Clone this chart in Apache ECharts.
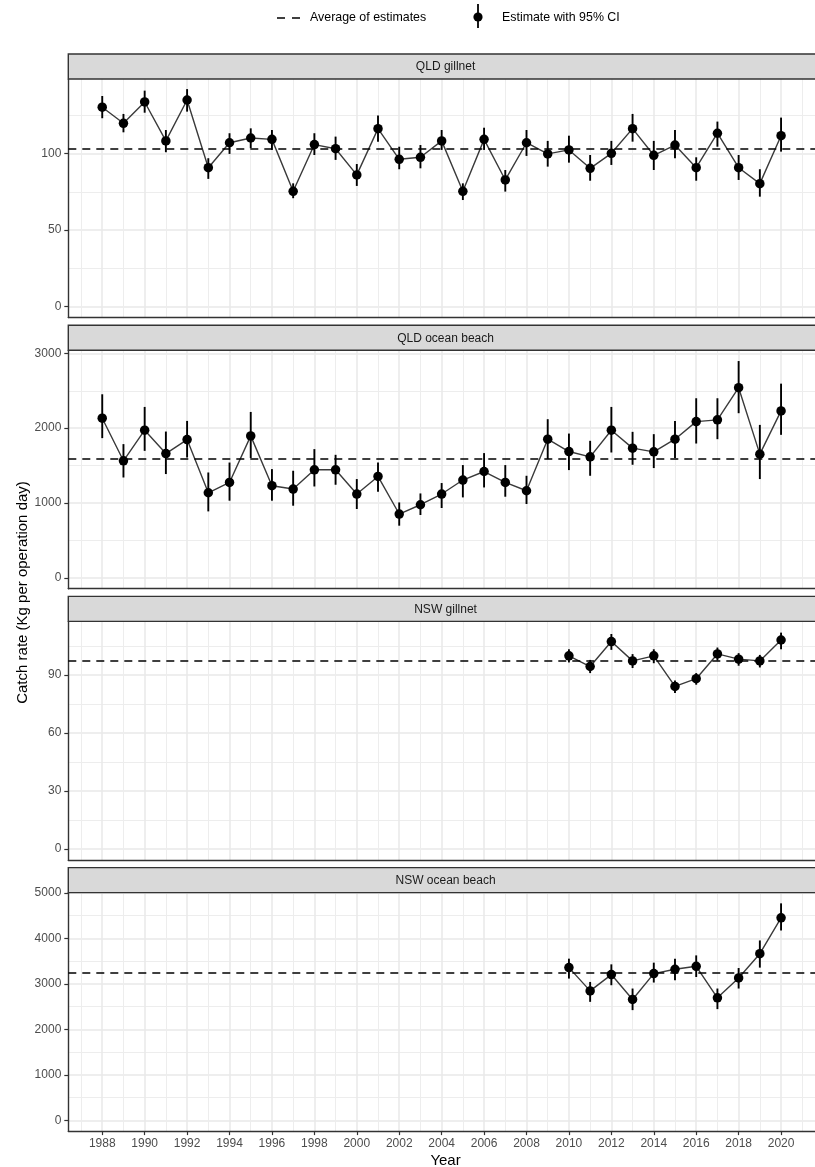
<!DOCTYPE html>
<html><head><meta charset="utf-8">
<script src="https://cdn.jsdelivr.net/npm/echarts@6/dist/echarts.min.js"></script>
<style>html,body{margin:0;padding:0;background:#fff}#c{width:815px;height:1167px}</style>
</head><body><div id="c"></div>
<script>
// ---------- data ----------
const qldYears = [1988,1989,1990,1991,1992,1993,1994,1995,1996,1997,1998,1999,2000,2001,2002,2003,2004,2005,2006,2007,2008,2009,2010,2011,2012,2013,2014,2015,2016,2017,2018,2019,2020];
const nswYears = [2010,2011,2012,2013,2014,2015,2016,2017,2018,2019,2020];

const qldGillnetEst = [130.2,119.7,133.6,108.2,134.9,90.7,107.0,110.1,109.2,75.3,105.8,103.1,86.0,116.2,96.2,97.5,108.2,75.3,109.2,82.7,107.0,99.7,102.3,90.3,100.1,116.2,98.8,105.5,90.7,113.2,90.7,80.3,111.6];
const qldGillnetLo  = [123.0,113.8,126.6,100.8,127.3,83.4,99.7,103.4,102.3,70.8,99.0,95.8,78.8,107.7,89.7,90.3,102.3,69.6,102.3,75.1,98.4,91.4,94.0,82.2,92.5,107.7,89.2,96.9,82.2,104.4,82.7,71.8,101.2];
const qldGillnetHi  = [137.5,125.8,141.0,115.3,142.0,96.9,113.2,116.4,115.3,80.5,113.2,111.0,93.1,124.7,104.4,105.5,115.3,80.5,116.8,89.2,115.3,108.2,111.6,99.0,108.2,125.8,108.2,115.3,97.5,120.8,99.0,89.7,123.4];

const qldBeachEst = [2133,1564,1973,1661,1848,1137,1275,1897,1231,1187,1444,1444,1120,1355,853,977,1120,1307,1421,1275,1164,1853,1688,1617,1973,1733,1684,1853,2088,2111,2541,1653,2231];
const qldBeachLo  = [1867,1341,1697,1387,1608,888,1031,1600,1031,964,1221,1244,920,1151,697,840,933,1075,1208,1084,987,1587,1440,1364,1675,1511,1467,1600,1795,1853,2200,1320,1911];
const qldBeachHi  = [2453,1787,2284,1955,2097,1408,1541,2217,1453,1431,1720,1644,1320,1541,1008,1128,1267,1507,1667,1507,1364,2120,1928,1831,2284,1951,1920,2097,2400,2400,2897,2044,2595];

const nswGillnetEst = [99.8,94.3,107.2,97.2,99.8,84.0,88.0,100.8,98.1,97.2,108.0];
const nswGillnetLo  = [96.4,90.9,102.9,93.5,96.0,80.6,84.9,97.4,94.7,93.8,103.2];
const nswGillnetHi  = [103.2,97.7,111.1,100.7,103.2,87.1,90.9,104.1,101.2,100.3,111.8];

const nswBeachEst = [3358,2846,3205,2658,3227,3321,3387,2693,3131,3665,4453];
const nswBeachLo  = [3117,2605,2971,2423,3030,3080,3152,2445,2898,3358,4175];
const nswBeachHi  = [3555,3043,3430,2898,3467,3555,3627,2898,3349,3956,4772];

const panelNames = ['QLD gillnet','QLD ocean beach','NSW gillnet','NSW ocean beach'];
const averages = [103.4, 1595, 97.2, 3240];

const xTicks = [1988,1990,1992,1994,1996,1998,2000,2002,2004,2006,2008,2010,2012,2014,2016,2018,2020];
const xMinorTicks = [1987,1989,1991,1993,1995,1997,1999,2001,2003,2005,2007,2009,2011,2013,2015,2017,2019,2021];
const yTicks = [[0,50,100],[0,1000,2000,3000],[0,30,60,90],[0,1000,2000,3000,4000,5000]];
const yMinorTicks = [[25,75,125],[500,1500,2500],[15,45,75,105],[500,1500,2500,3500,4500]];

// ---------- layout ----------
const xRange = [1986.4, 2021.6];
const yRanges = [[-7.07,148.6],[-144.9,3041.9],[-5.6,117.6],[-238.5,5008.5]];
const panelLeft = 68.3, panelWidth = 754.5, stripH = 25, panelH = 238.5, firstStripTop = 54, panelStep = 271.2;
const FONT = '"Liberation Sans", Arial, sans-serif';

const panels = [
  {years: qldYears, est: qldGillnetEst, lo: qldGillnetLo, hi: qldGillnetHi},
  {years: qldYears, est: qldBeachEst, lo: qldBeachLo, hi: qldBeachHi},
  {years: nswYears, est: nswGillnetEst, lo: nswGillnetLo, hi: nswGillnetHi},
  {years: nswYears, est: nswBeachEst, lo: nswBeachLo, hi: nswBeachHi}
];

const grids = [], xAxes = [], yAxes = [], series = [], graphics = [];

panels.forEach((p, i) => {
  const stripTop = firstStripTop + i * panelStep;
  const top = stripTop + stripH;
  const isBottom = i === panels.length - 1;
  grids.push({left: panelLeft, top: top, width: panelWidth, height: panelH, containLabel: false});

  xAxes.push({
    type: 'value', gridIndex: i, min: xRange[0], max: xRange[1],
    axisLine: {show: true, onZero: false, lineStyle: {color: '#333333', width: 1.4}},
    axisTick: {show: isBottom, length: 4, lineStyle: {color: '#333333', width: 1.2}, customValues: xTicks},
    axisLabel: {show: isBottom, margin: 7, color: '#4d4d4d', fontSize: 12, fontFamily: FONT, customValues: xTicks, formatter: v => String(v)},
    splitLine: {show: true, lineStyle: {color: '#e9e9e9', width: 1.5}}
  });
  xAxes.push({
    type: 'value', gridIndex: i, min: xRange[0], max: xRange[1],
    axisLine: {show: false}, axisTick: {show: false, customValues: xMinorTicks},
    axisLabel: {show: false}, splitLine: {show: true, lineStyle: {color: '#ededed', width: 1.1}}
  });
  yAxes.push({
    type: 'value', gridIndex: i, min: yRanges[i][0], max: yRanges[i][1], position: 'left',
    axisLine: {show: true, onZero: false, lineStyle: {color: '#333333', width: 1.4}},
    axisTick: {show: true, length: 4, lineStyle: {color: '#333333', width: 1.2}, customValues: yTicks[i]},
    axisLabel: {show: true, margin: 7, color: '#4d4d4d', fontSize: 12, fontFamily: FONT, customValues: yTicks[i], formatter: v => String(v)},
    splitLine: {show: true, lineStyle: {color: '#e9e9e9', width: 1.5}}
  });
  yAxes.push({
    type: 'value', gridIndex: i, min: yRanges[i][0], max: yRanges[i][1], position: 'left',
    axisLine: {show: false}, axisTick: {show: false, customValues: yMinorTicks[i]},
    axisLabel: {show: false}, splitLine: {show: true, lineStyle: {color: '#ededed', width: 1.1}}
  });

  const xi = 2 * i, yi = 2 * i;
  const pts = p.years.map((y, k) => [y, p.est[k]]);
  series.push({
    type: 'line', xAxisIndex: xi, yAxisIndex: yi, data: pts, symbol: 'none', z: 2,
    lineStyle: {color: '#3a3a3a', width: 1.4}, silent: true,
    markLine: {
      silent: true, symbol: ['none', 'none'], label: {show: false},
      lineStyle: {color: '#000', type: [8, 6], width: 1.5},
      data: [{yAxis: averages[i]}]
    }
  });
  series.push({
    type: 'custom', xAxisIndex: xi, yAxisIndex: yi, z: 3, silent: true,
    data: p.years.map((y, k) => [y, p.lo[k], p.hi[k]]),
    encode: {x: 0, y: [1, 2]},
    renderItem: (params, api) => {
      const a = api.coord([api.value(0), api.value(1)]);
      const b = api.coord([api.value(0), api.value(2)]);
      return {type: 'line', shape: {x1: a[0], y1: a[1], x2: b[0], y2: b[1]}, style: {stroke: '#000', lineWidth: 1.9}};
    }
  });
  series.push({
    type: 'scatter', xAxisIndex: xi, yAxisIndex: yi, data: pts, z: 4, silent: true,
    symbol: 'circle', symbolSize: 9.5, itemStyle: {color: '#000', opacity: 1}
  });

  graphics.push({type: 'rect', shape: {x: panelLeft, y: stripTop, width: panelWidth, height: stripH},
    style: {fill: '#d9d9d9', stroke: '#333333', lineWidth: 1.4}, z: 10});
  graphics.push({type: 'text', x: panelLeft + panelWidth / 2, y: stripTop + stripH / 2 + 0.5, z: 11,
    style: {text: panelNames[i], fill: '#1a1a1a', fontSize: 12, fontFamily: FONT, align: 'center', verticalAlign: 'middle'}});
});

// legend
graphics.push({type: 'line', shape: {x1: 277, y1: 18, x2: 300, y2: 18}, style: {stroke: '#000', lineWidth: 1.6, lineDash: [8, 7]}});
graphics.push({type: 'text', x: 310, y: 18, style: {text: 'Average of estimates', fill: '#000', fontSize: 12.4, fontFamily: FONT, align: 'left', verticalAlign: 'middle'}});
graphics.push({type: 'line', shape: {x1: 478, y1: 4, x2: 478, y2: 28}, style: {stroke: '#000', lineWidth: 1.8}});
graphics.push({type: 'circle', shape: {cx: 478, cy: 17, r: 4.6}, style: {fill: '#000'}});
graphics.push({type: 'text', x: 502, y: 18, style: {text: 'Estimate with 95% CI', fill: '#000', fontSize: 12.4, fontFamily: FONT, align: 'left', verticalAlign: 'middle'}});

// axis titles
graphics.push({type: 'text', x: 23, y: 592.5, rotation: Math.PI / 2,
  style: {text: 'Catch rate (Kg per operation day)', fill: '#000', fontSize: 15, fontFamily: FONT, align: 'center', verticalAlign: 'middle'}});
graphics.push({type: 'text', x: panelLeft + panelWidth / 2, y: 1161,
  style: {text: 'Year', fill: '#000', fontSize: 15, fontFamily: FONT, align: 'center', verticalAlign: 'middle'}});

const chart = echarts.init(document.getElementById('c'), null, {renderer: 'canvas'});
chart.setOption({
  animation: false,
  backgroundColor: '#ffffff',
  grid: grids, xAxis: xAxes, yAxis: yAxes, series: series, graphic: graphics
});
</script></body></html>
